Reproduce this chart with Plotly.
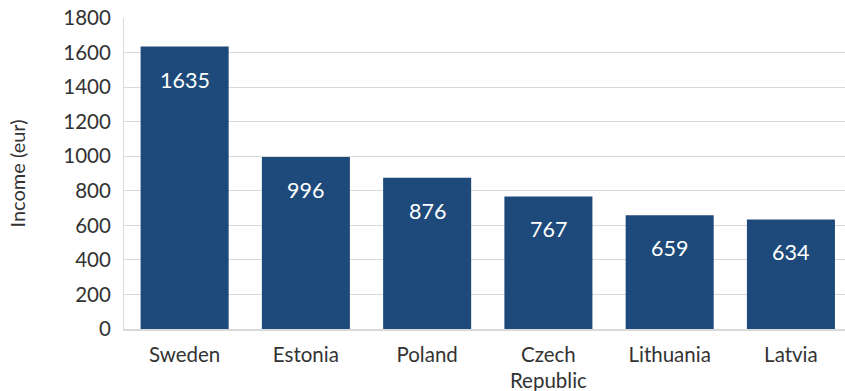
import plotly.graph_objects as go

countries = ["Sweden", "Estonia", "Poland", "Czech<br>Republic", "Lithuania", "Latvia"]
income = [1635, 996, 876, 767, 659, 634]
y_ticks = [0, 200, 400, 600, 800, 1000, 1200, 1400, 1600, 1800]

bar_color = "#1D4A7A"
grid_color = "#D9D9D9"
text_color = "#333333"

fig = go.Figure()
fig.add_trace(go.Bar(x=list(range(len(countries))), y=income, marker_color=bar_color,
                     marker_line_width=0, hoverinfo="skip"))

for i, v in enumerate(income):
    fig.add_annotation(x=i, y=v, text=str(v), showarrow=False, yanchor="middle",
                       yshift=-33, font=dict(family="Lato", size=21.5, color="white"))

fig.update_layout(
    width=845, height=391,
    margin=dict(l=124, r=0, t=18, b=62),
    paper_bgcolor="white", plot_bgcolor="white",
    bargap=0.274, showlegend=False,
    font=dict(family="Lato", size=20, color=text_color),
)
fig.update_xaxes(
    tickmode="array", tickvals=list(range(len(countries))), ticktext=countries,
    range=[-0.5, 5.446], showline=True, linecolor=grid_color, linewidth=2,
    showgrid=False, ticks="", ticklabelstandoff=6,
    tickfont=dict(size=20.5, family="Lato", color=text_color),
)
fig.update_yaxes(
    range=[0, 1800], tickvals=y_ticks, showline=True, linecolor=grid_color, linewidth=1,
    showgrid=True, gridcolor=grid_color, gridwidth=1, zeroline=False, ticks="",
    ticklabelstandoff=8,
    tickfont=dict(size=20.5, family="Lato", color=text_color),
    title=dict(text="Income (eur)", font=dict(size=20, family="Lato", color=text_color), standoff=32),
)

fig.write_html("out.html", config={"displayModeBar": False},
               post_script="document.body.style.margin='0px';")
